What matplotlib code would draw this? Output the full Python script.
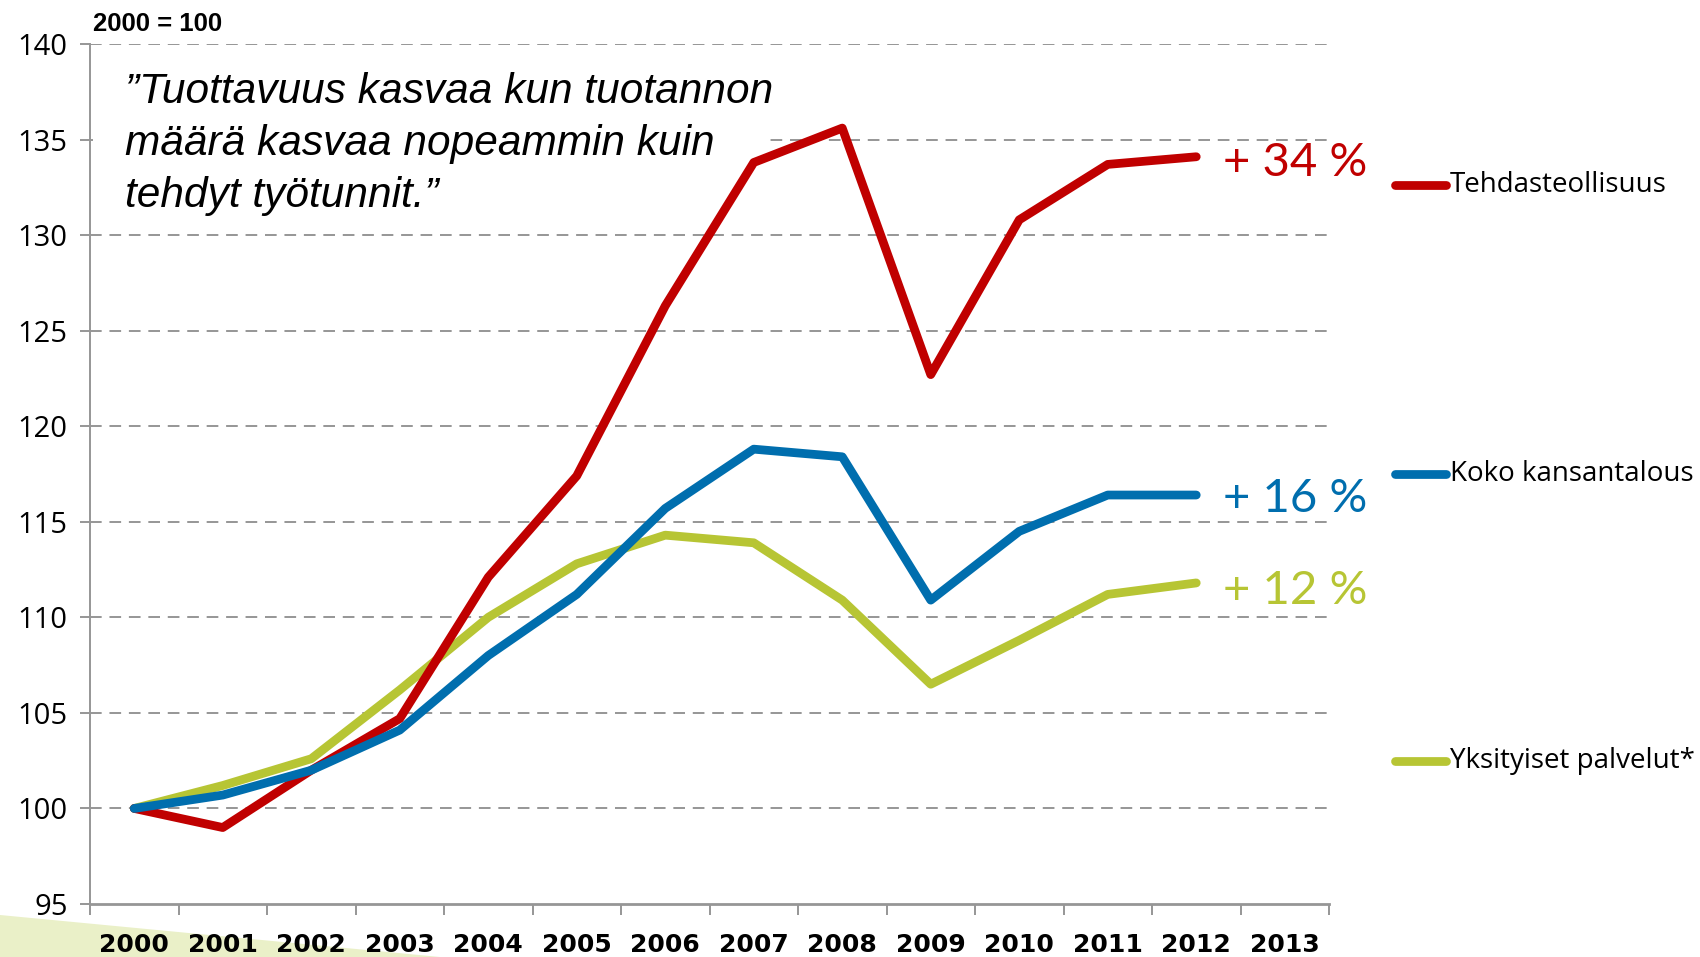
import matplotlib.pyplot as plt
import numpy as np
from matplotlib.patches import Polygon, Rectangle

years = ["2000", "2001", "2002", "2003", "2004", "2005", "2006",
         "2007", "2008", "2009", "2010", "2011", "2012", "2013"]
tehdas = [100.0, 99.0, 102.0, 104.7, 112.1, 117.4, 126.3, 133.8, 135.6, 122.7, 130.8, 133.7, 134.1]
koko = [100.0, 100.7, 102.0, 104.1, 108.0, 111.2, 115.7, 118.8, 118.4, 110.9, 114.5, 116.4, 116.4]
palvelut = [100.0, 101.2, 102.6, 106.2, 110.0, 112.8, 114.3, 113.9, 110.9, 106.5, 108.8, 111.2, 111.8]
series_names = ["Tehdasteollisuus", "Koko kansantalous", "Yksityiset palvelut*"]
change_labels = ["+ 34 %", "+ 16 %", "+ 12 %"]
yticks = [95, 100, 105, 110, 115, 120, 125, 130, 135, 140]

RED = "#C00000"
BLUE = "#006EAE"
GREEN = "#B7C534"
GRID = "#969696"

W, H = 1700, 957
fig = plt.figure(figsize=(W / 100, H / 100), dpi=100)

# light green decoration in lower left corner
bg = fig.add_axes([0, 0, 1, 1], zorder=-1)
bg.set_xlim(0, W)
bg.set_ylim(H, 0)
bg.axis("off")
bg.add_patch(Polygon([(0, 915), (440, 957), (0, 957)], closed=True, color="#EAF0C8", lw=0))

ax = fig.add_axes([90 / W, 1 - 904 / H, (1329 - 90) / W, (904 - 44) / H])
ax.patch.set_alpha(0)

x = np.arange(len(tehdas))
lw = 6.3
ax.plot(x, tehdas, color=RED, lw=lw, solid_capstyle="round", zorder=3)
ax.plot(x, koko, color=BLUE, lw=lw, solid_capstyle="round", zorder=4)
ax.plot(x, palvelut, color=GREEN, lw=lw, solid_capstyle="round", zorder=2)

ax.set_xlim(-0.5, len(years) - 0.5)
ax.set_ylim(95, 140)

for y in yticks[1:]:
    ax.axhline(y, color=GRID, lw=1.4, ls=(0, (6, 4)), zorder=1)

# white box behind the quote hides the gridline under it
ax.add_patch(Rectangle((93 / W, 1 - 215 / H), (764 - 93) / W, (215 - 62) / H,
                       transform=fig.transFigure, facecolor="white",
                       edgecolor="none", zorder=1.5))

for s in ["top", "right"]:
    ax.spines[s].set_visible(False)
ax.spines["left"].set_color(GRID)
ax.spines["bottom"].set_color(GRID)
ax.spines["left"].set_linewidth(1.4)
ax.spines["bottom"].set_linewidth(2.0)

ax.set_yticks(yticks)
ax.set_yticklabels([str(v) for v in yticks], fontsize=21, family="Open Sans")
ax.tick_params(axis="y", length=7, width=1.4, color=GRID, pad=9)

ax.set_xticks(x.tolist() + [13], labels=years, fontsize=18, fontweight="bold",
              family=["Liberation Sans Narrow", "DejaVu Sans"])
ax.tick_params(axis="x", which="major", length=0, pad=21)
ax.set_xticks(np.arange(-0.5, len(years)), minor=True)
ax.tick_params(axis="x", which="minor", length=8, width=1.4, color=GRID)

fig.text(93 / W, 1 - 24 / H, "2000 = 100", fontsize=18.5, fontweight="bold",
         family="Liberation Sans", va="center", ha="left")

fig.text(125 / W, 1 - 144 / H,
         "\u201dTuottavuus kasvaa kun tuotannon\nmäärä kasvaa nopeammin kuin\ntehdyt työtunnit.\u201d",
         fontsize=30.5, style="italic", family="Liberation Sans", va="center", ha="left",
         linespacing=1.38)

label_y = [163, 499, 591]
for txt, col, yy in zip(change_labels, [RED, BLUE, GREEN], label_y):
    fig.text(1223 / W, 1 - yy / H, txt, color=col, fontsize=34,
             family=["Liberation Sans Narrow", "Lato"], va="center", ha="left")

leg_y = [185, 474, 761]
for name, col, yy in zip(series_names, [RED, BLUE, GREEN], leg_y):
    fig.add_artist(plt.Line2D([1395 / W, 1446 / W], [1 - yy / H, 1 - yy / H],
                              color=col, lw=lw, solid_capstyle="round"))
    fig.text(1450 / W, 1 - yy / H, name, fontsize=20, family="Open Sans",
             va="center", ha="left")

fig.savefig("out.png", dpi=100)
